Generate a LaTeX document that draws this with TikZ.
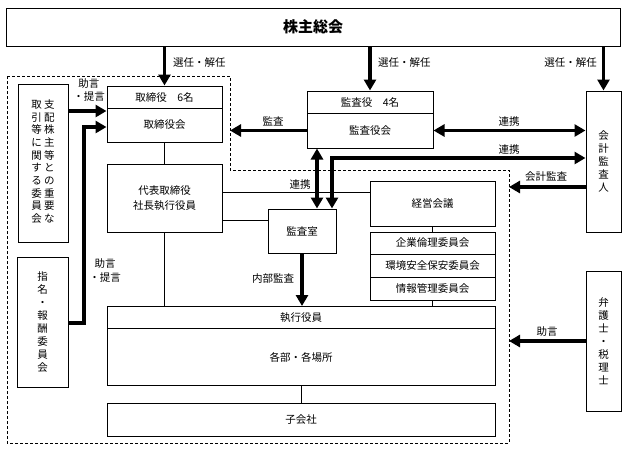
\documentclass[tikz,border=0pt]{standalone}
\usepackage{fontspec}
\setmainfont{Noto Sans CJK JP}
\usetikzlibrary{arrows.meta,positioning,calc}

\tikzset{
  box/.style={draw,line width=1pt,inner sep=0pt,font=\fontsize{10.5}{13}\selectfont},
  link/.style={line width=0.8pt},
  bigarr/.style={line width=3.5pt,-{Triangle[length=11pt,width=12pt]}},
  bigboth/.style={line width=3.5pt,{Triangle[length=11pt,width=12pt]}-{Triangle[length=11pt,width=12pt]}},
  lbl/.style={inner sep=0pt,font=\fontsize{10.5}{13}\selectfont},
  group/.style={line width=0.8pt,dash pattern=on 3pt off 2pt}
}

\begin{document}
\begin{tikzpicture}[x=1pt,y=-1pt]
  \useasboundingbox (0,0) rectangle (627,451);
  % shareholders meeting
  \node[box,minimum width=614pt,minimum height=38pt,font=\fontsize{15}{18}\selectfont\bfseries] (agm) at (313,27) {株主総会};

  % dashed group round the company
  \coordinate (dA) at (230,76);
  \coordinate (dC) at (509,170);
  \draw[group] (7,76) -- (dA) -- (230,170) -- (dC) -- (509,443) -- (7,443) -- cycle;

  % board and committees
  \node[box,minimum width=115pt,minimum height=22pt] (bodt) at (164.5,97) {取締役　6名};
  \node[box,minimum width=115pt,minimum height=34pt] (bod) at (164.5,125) {取締役会};
  \node[box,minimum width=50pt,minimum height=158pt,font=\fontsize{10.5}{12.7}\selectfont] (spc) at (43,163)
    {\begin{tabular}{@{}c@{\hspace{2.5pt}}c@{}}
     取&支\\引&配\\等&株\\に&主\\関&等\\す&と\\る&の\\委&重\\員&要\\会&な
     \end{tabular}};
  \node[box,minimum width=51pt,minimum height=130pt,align=center] (nrc) at (42.5,322)
    {指\\名\\・\\報\\酬\\委\\員\\会};
  \node[box,minimum width=115pt,minimum height=68pt,align=center,font=\fontsize{10.5}{14.5}\selectfont] (ceo) at (164.5,198)
    {代表取締役\\社長執行役員};
  \node[box,minimum width=68pt,minimum height=44pt] (iad) at (302,231) {監査室};

  % auditors
  \node[box,minimum width=126pt,minimum height=22pt] (asbt) at (370,102) {監査役　4名};
  \node[box,minimum width=126pt,minimum height=35pt] (asb) at (370,130.5) {監査役会};
  \node[box,minimum width=35pt,minimum height=141pt,align=center] (acc) at (603.5,161.5)
    {会\\計\\監\\査\\人};
  \node[box,minimum width=35pt,minimum height=140pt,align=center] (law) at (603.5,341)
    {弁\\護\\士\\・\\税\\理\\士};

  % management
  \node[box,minimum width=125pt,minimum height=45pt] (mgm) at (432.5,203.5) {経営会議};
  \node[box,minimum width=125pt,minimum height=22pt] (c1) at (432.5,243) {企業倫理委員会};
  \node[box,minimum width=125pt,minimum height=23pt] (c2) at (432.5,265.5) {環境安全保安委員会};
  \node[box,minimum width=125pt,minimum height=23pt] (c3) at (432.5,288.5) {情報管理委員会};
  \node[box,minimum width=388pt,minimum height=22pt] (exot) at (301,317.5) {執行役員};
  \node[box,minimum width=388pt,minimum height=57pt] (exo) at (301,357) {各部・各場所};
  \node[box,minimum width=388pt,minimum height=33pt] (sub) at (301,419.5) {子会社};

  % labels
  \node[lbl,anchor=west] (sel1) at (173,63) {選任・解任};
  \node[lbl,anchor=west] (sel2) at (378,63) {選任・解任};
  \node[lbl,anchor=east] (sel3) at (597,63) {選任・解任};
  \node[lbl,align=center] (adv1) at (89,90.5) {助言\\・提言};
  \node[lbl,align=center,font=\fontsize{10.5}{14}\selectfont] (adv2) at (105,271) {助言\\・提言};
  \node[lbl] (aud) at (273,121) {監査};
  \node[lbl] (coop1) at (300,185) {連携};
  \node[lbl] (coop2) at (509,122) {連携};
  \node[lbl] (coop3) at (509,150) {連携};
  \node[lbl] (accaud) at (546,177) {会計監査};
  \node[lbl] (intaud) at (273,279) {内部監査};
  \node[lbl] (adv3) at (547,332) {助言};

  % connectors
  \coordinate (a1) at (0,111);
  \coordinate (a2) at (84,127);
  \coordinate (a3) at (84,323);
  \coordinate (a4) at (0,192);
  \coordinate (a5) at (0,220);
  \coordinate (a6) at (317,0);
  \coordinate (a7) at (332,158);
  \coordinate (a8) at (0,187);

  \draw[bigarr] (agm.south -| bodt.north) -- (bodt.north);
  \draw[bigarr] (agm.south -| asbt.north) -- (asbt.north);
  \draw[bigarr] (agm.south -| acc.north) -- (acc.north);
  \draw[bigarr] (spc.east |- a1) -- (bod.west |- a1);
  \draw[bigarr] (nrc.east |- a3) -- (a3) -- (a2) -- (bod.west |- a2);
  \draw[link] (bod) -- (ceo);
  \draw[link] (ceo.south) -- (ceo.south |- exot.north);
  \draw[link] (ceo.east |- a4) -- (mgm.west |- a4);
  \draw[link] (ceo.east |- a5) -- (iad.west |- a5);
  \draw[bigarr] (asb.west) -- (asb.west -| dA);
  \draw[bigboth] (asb.east) -- (asb.east -| acc.west);
  \draw[bigboth] (asb.south -| a6) -- (iad.north -| a6);
  \draw[bigboth] (acc.west |- a7) -- (a7) -- (iad.north -| a7);
  \draw[bigarr] (acc.west |- a8) -- (dC |- a8);
  \draw[bigarr] (iad.south) -- (iad.south |- exot.north);
  \draw[link] (mgm) -- (c1);
  \draw[link] (c3.south) -- (c3.south |- exot.north);
  \draw[link] (exo) -- (sub);
  \draw[bigarr] (law.west) -- (law.west -| dC);
\end{tikzpicture}
\end{document}
